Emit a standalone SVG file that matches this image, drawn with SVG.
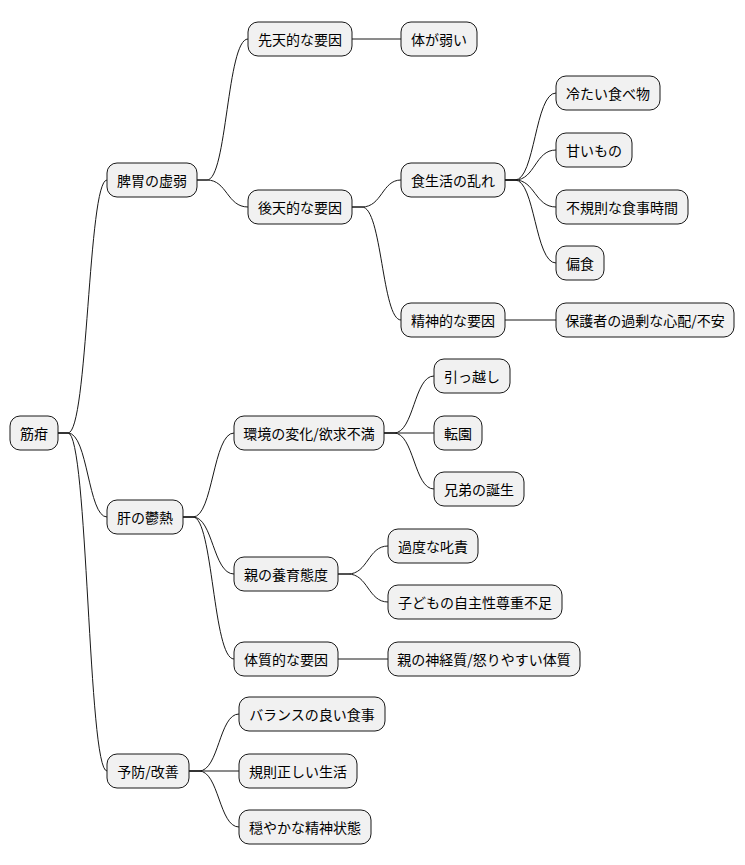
<svg xmlns="http://www.w3.org/2000/svg" width="745" height="865" viewBox="0 0 745 865">
<style>
rect{fill:#f1f1f1;stroke:#181818;stroke-width:1;}
text{font-family:"Noto Sans CJK JP","Liberation Sans",sans-serif;font-size:14px;fill:#000;text-anchor:middle;dominant-baseline:central;}
path{fill:none;stroke:#181818;stroke-width:1;}
</style>
<rect width="745" height="865" style="fill:#fff;stroke:none"/>
<g id="connectors">
<path d="M58,433 L68,433 C88,433 88,180 107,180"/>
<path d="M58,433 L68,433 C88,433 88,517 107,517"/>
<path d="M58,433 L68,433 C88,433 88,771 107,771"/>
<path d="M197,180 L207,180 C227,180 227,39 248,39"/>
<path d="M197,180 L207,180 C227,180 227,207 248,207"/>
<path d="M352,39 L401,39"/>
<path d="M352,207 L362,207 C382,207 382,180 401,180"/>
<path d="M352,207 L362,207 C382,207 382,320 401,320"/>
<path d="M505,180 L515,180 C535,180 535,93 556,93"/>
<path d="M505,180 L515,180 C535,180 535,150 556,150"/>
<path d="M505,180 L515,180 C535,180 535,207 556,207"/>
<path d="M505,180 L515,180 C535,180 535,263 556,263"/>
<path d="M505,320 L556,320"/>
<path d="M183,517 L193,517 C213,517 213,433 234,433"/>
<path d="M183,517 L193,517 C213,517 213,574 234,574"/>
<path d="M183,517 L193,517 C213,517 213,659 234,659"/>
<path d="M384,433 L394,433 C414,433 414,376 434,376"/>
<path d="M384,433 L434,433"/>
<path d="M384,433 L394,433 C414,433 414,489 434,489"/>
<path d="M338,574 L348,574 C368,574 368,546 388,546"/>
<path d="M338,574 L348,574 C368,574 368,602 388,602"/>
<path d="M338,659 L388,659"/>
<path d="M189,771 L199,771 C219,771 219,714 239,714"/>
<path d="M189,771 L239,771"/>
<path d="M189,771 L199,771 C219,771 219,827 239,827"/>
</g>
<g id="n0"><rect x="10" y="416" width="48" height="34" rx="10"/><text x="34" y="433">筋疳</text></g>
<g id="n1"><rect x="107" y="163" width="90" height="34" rx="10"/><text x="152" y="180">脾胃の虚弱</text></g>
<g id="n2"><rect x="248" y="22" width="104" height="34" rx="10"/><text x="300" y="39">先天的な要因</text></g>
<g id="n3"><rect x="401" y="22" width="76" height="34" rx="10"/><text x="439" y="39">体が弱い</text></g>
<g id="n4"><rect x="248" y="190" width="104" height="34" rx="10"/><text x="300" y="207">後天的な要因</text></g>
<g id="n5"><rect x="401" y="163" width="104" height="34" rx="10"/><text x="453" y="180">食生活の乱れ</text></g>
<g id="n6"><rect x="556" y="76" width="104" height="34" rx="10"/><text x="608" y="93">冷たい食べ物</text></g>
<g id="n7"><rect x="556" y="133" width="76" height="34" rx="10"/><text x="594" y="150">甘いもの</text></g>
<g id="n8"><rect x="556" y="190" width="132" height="34" rx="10"/><text x="622" y="207">不規則な食事時間</text></g>
<g id="n9"><rect x="556" y="246" width="48" height="34" rx="10"/><text x="580" y="263">偏食</text></g>
<g id="n10"><rect x="401" y="303" width="104" height="34" rx="10"/><text x="453" y="320">精神的な要因</text></g>
<g id="n11"><rect x="556" y="303" width="178" height="34" rx="10"/><text x="645" y="320">保護者の過剰な心配/不安</text></g>
<g id="n12"><rect x="107" y="500" width="76" height="34" rx="10"/><text x="145" y="517">肝の鬱熱</text></g>
<g id="n13"><rect x="234" y="416" width="150" height="34" rx="10"/><text x="309" y="433">環境の変化/欲求不満</text></g>
<g id="n14"><rect x="434" y="359" width="76" height="34" rx="10"/><text x="472" y="376">引っ越し</text></g>
<g id="n15"><rect x="434" y="416" width="48" height="34" rx="10"/><text x="458" y="433">転園</text></g>
<g id="n16"><rect x="434" y="472" width="90" height="34" rx="10"/><text x="479" y="489">兄弟の誕生</text></g>
<g id="n17"><rect x="234" y="557" width="104" height="34" rx="10"/><text x="286" y="574">親の養育態度</text></g>
<g id="n18"><rect x="388" y="529" width="90" height="34" rx="10"/><text x="433" y="546">過度な叱責</text></g>
<g id="n19"><rect x="388" y="585" width="174" height="34" rx="10"/><text x="475" y="602">子どもの自主性尊重不足</text></g>
<g id="n20"><rect x="234" y="642" width="104" height="34" rx="10"/><text x="286" y="659">体質的な要因</text></g>
<g id="n21"><rect x="388" y="642" width="192" height="34" rx="10"/><text x="484" y="659">親の神経質/怒りやすい体質</text></g>
<g id="n22"><rect x="107" y="754" width="82" height="34" rx="10"/><text x="148" y="771">予防/改善</text></g>
<g id="n23"><rect x="239" y="697" width="146" height="34" rx="10"/><text x="312" y="714">バランスの良い食事</text></g>
<g id="n24"><rect x="239" y="754" width="118" height="34" rx="10"/><text x="298" y="771">規則正しい生活</text></g>
<g id="n25"><rect x="239" y="810" width="132" height="34" rx="10"/><text x="305" y="827">穏やかな精神状態</text></g>
</svg>
